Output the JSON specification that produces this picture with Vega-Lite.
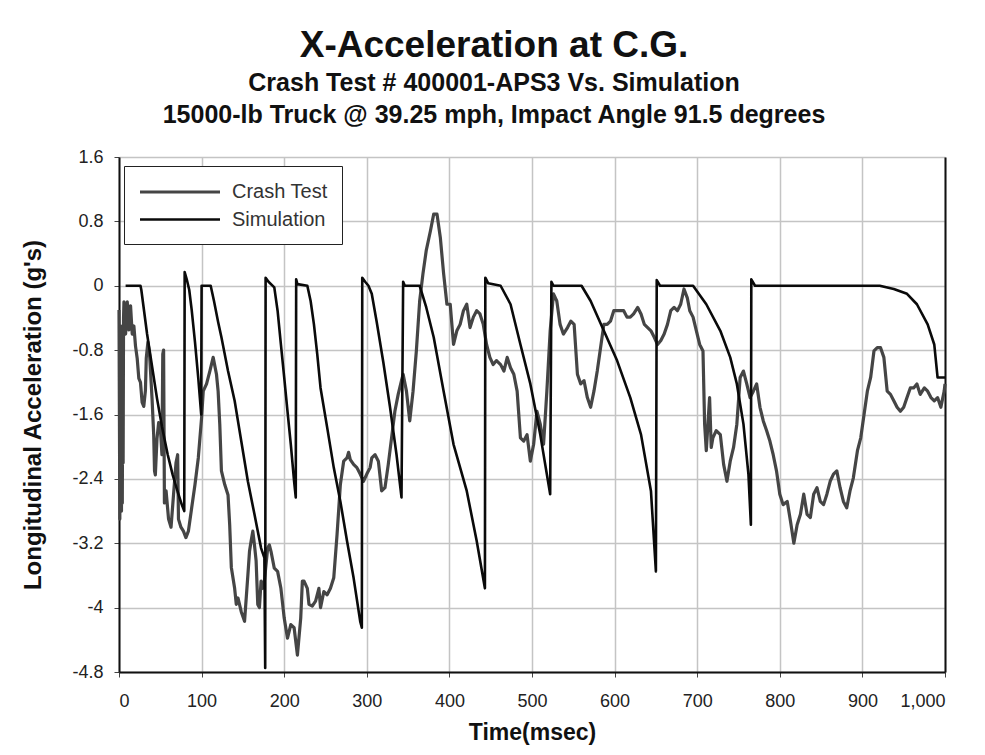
{
  "$schema": "https://vega.github.io/schema/vega-lite/v6.json",
  "width": 826,
  "height": 515,
  "autosize": {"type": "none"},
  "padding": {"left": 119, "top": 157, "right": 40, "bottom": 83},
  "background": "white",
  "title": {
    "text": "X-Acceleration at C.G.",
    "subtitle": ["Crash Test # 400001-APS3 Vs. Simulation", "15000-lb Truck @ 39.25 mph, Impact Angle 91.5 degrees"],
    "anchor": "middle",
    "dx": -38,
    "offset": 19,
    "font": "Liberation Sans",
    "fontSize": 37,
    "fontWeight": "bold",
    "color": "#111",
    "subtitleFont": "Liberation Sans",
    "subtitleFontSize": 25,
    "subtitleFontWeight": "bold",
    "subtitleColor": "#111",
    "subtitleLineHeight": 32,
    "subtitlePadding": 6
  },
  "data": {"values": [
    {"series":"Crash Test","t":0,"g":-0.3},{"series":"Crash Test","t":0.5,"g":-1.6},{"series":"Crash Test","t":1,"g":-2.9},{"series":"Crash Test","t":1.5,"g":-0.8},{"series":"Crash Test","t":2,"g":-2.6},{"series":"Crash Test","t":2.5,"g":-0.5},{"series":"Crash Test","t":3,"g":-2.8},{"series":"Crash Test","t":3.5,"g":-0.7},{"series":"Crash Test","t":4,"g":-2.7},{"series":"Crash Test","t":4.5,"g":-0.9},{"series":"Crash Test","t":5,"g":-2.2},{"series":"Crash Test","t":5.5,"g":-0.4},{"series":"Crash Test","t":6,"g":-0.2},{"series":"Crash Test","t":8,"g":-0.6},{"series":"Crash Test","t":10,"g":-0.2},{"series":"Crash Test","t":12,"g":-0.55},{"series":"Crash Test","t":14,"g":-0.25},{"series":"Crash Test","t":16,"g":-0.6},{"series":"Crash Test","t":18,"g":-0.5},{"series":"Crash Test","t":20,"g":-0.75},{"series":"Crash Test","t":22,"g":-0.9},{"series":"Crash Test","t":24,"g":-1.15},{"series":"Crash Test","t":26,"g":-1.2},{"series":"Crash Test","t":28,"g":-1.45},{"series":"Crash Test","t":30,"g":-1.5},{"series":"Crash Test","t":32,"g":-1.3},{"series":"Crash Test","t":33,"g":-0.9},{"series":"Crash Test","t":35,"g":-0.7},{"series":"Crash Test","t":37,"g":-0.85},{"series":"Crash Test","t":40,"g":-1.4},{"series":"Crash Test","t":42,"g":-1.85},{"series":"Crash Test","t":43,"g":-2.3},{"series":"Crash Test","t":44,"g":-2.35},{"series":"Crash Test","t":46,"g":-1.9},{"series":"Crash Test","t":48,"g":-1.7},{"series":"Crash Test","t":50,"g":-1.75},{"series":"Crash Test","t":52,"g":-2.1},{"series":"Crash Test","t":53,"g":-0.85},{"series":"Crash Test","t":54,"g":-0.8},{"series":"Crash Test","t":55,"g":-2.7},{"series":"Crash Test","t":57,"g":-2.55},{"series":"Crash Test","t":60,"g":-2.9},{"series":"Crash Test","t":63,"g":-3.0},{"series":"Crash Test","t":66,"g":-2.6},{"series":"Crash Test","t":69,"g":-2.2},{"series":"Crash Test","t":71,"g":-2.1},{"series":"Crash Test","t":72,"g":-2.9},{"series":"Crash Test","t":75,"g":-3.0},{"series":"Crash Test","t":78,"g":-3.05},{"series":"Crash Test","t":81,"g":-3.13},{"series":"Crash Test","t":84,"g":-3.05},{"series":"Crash Test","t":88,"g":-2.76},{"series":"Crash Test","t":92,"g":-2.47},{"series":"Crash Test","t":96,"g":-2.14},{"series":"Crash Test","t":100,"g":-1.64},{"series":"Crash Test","t":102,"g":-1.31},{"series":"Crash Test","t":106,"g":-1.22},{"series":"Crash Test","t":110,"g":-1.06},{"series":"Crash Test","t":114,"g":-0.89},{"series":"Crash Test","t":118,"g":-1.1},{"series":"Crash Test","t":120,"g":-1.31},{"series":"Crash Test","t":122,"g":-1.72},{"series":"Crash Test","t":124,"g":-2.3},{"series":"Crash Test","t":128,"g":-2.47},{"series":"Crash Test","t":132,"g":-2.6},{"series":"Crash Test","t":134,"g":-2.97},{"series":"Crash Test","t":136,"g":-3.5},{"series":"Crash Test","t":140,"g":-3.76},{"series":"Crash Test","t":142,"g":-3.96},{"series":"Crash Test","t":144,"g":-3.88},{"series":"Crash Test","t":148,"g":-4.05},{"series":"Crash Test","t":152,"g":-4.17},{"series":"Crash Test","t":156,"g":-3.6},{"series":"Crash Test","t":158,"g":-3.3},{"series":"Crash Test","t":160,"g":-3.17},{"series":"Crash Test","t":162,"g":-3.05},{"series":"Crash Test","t":164,"g":-3.22},{"series":"Crash Test","t":166,"g":-3.42},{"series":"Crash Test","t":168,"g":-3.96},{"series":"Crash Test","t":170,"g":-4.0},{"series":"Crash Test","t":172,"g":-3.67},{"series":"Crash Test","t":174,"g":-3.76},{"series":"Crash Test","t":176,"g":-3.67},{"series":"Crash Test","t":180,"g":-3.26},{"series":"Crash Test","t":182,"g":-3.22},{"series":"Crash Test","t":184,"g":-3.3},{"series":"Crash Test","t":188,"g":-3.51},{"series":"Crash Test","t":192,"g":-3.55},{"series":"Crash Test","t":196,"g":-3.76},{"series":"Crash Test","t":200,"g":-4.13},{"series":"Crash Test","t":204,"g":-4.38},{"series":"Crash Test","t":208,"g":-4.21},{"series":"Crash Test","t":212,"g":-4.25},{"series":"Crash Test","t":216,"g":-4.59},{"series":"Crash Test","t":220,"g":-4.13},{"series":"Crash Test","t":222,"g":-3.67},{"series":"Crash Test","t":224,"g":-3.67},{"series":"Crash Test","t":228,"g":-3.76},{"series":"Crash Test","t":230,"g":-3.96},{"series":"Crash Test","t":234,"g":-3.98},{"series":"Crash Test","t":238,"g":-3.92},{"series":"Crash Test","t":242,"g":-3.76},{"series":"Crash Test","t":244,"g":-4.0},{"series":"Crash Test","t":248,"g":-3.8},{"series":"Crash Test","t":252,"g":-3.84},{"series":"Crash Test","t":256,"g":-3.76},{"series":"Crash Test","t":260,"g":-3.63},{"series":"Crash Test","t":264,"g":-3.09},{"series":"Crash Test","t":268,"g":-2.47},{"series":"Crash Test","t":272,"g":-2.18},{"series":"Crash Test","t":276,"g":-2.14},{"series":"Crash Test","t":278,"g":-2.07},{"series":"Crash Test","t":280,"g":-2.16},{"series":"Crash Test","t":284,"g":-2.22},{"series":"Crash Test","t":288,"g":-2.26},{"series":"Crash Test","t":292,"g":-2.34},{"series":"Crash Test","t":296,"g":-2.43},{"series":"Crash Test","t":300,"g":-2.34},{"series":"Crash Test","t":304,"g":-2.26},{"series":"Crash Test","t":306,"g":-2.14},{"series":"Crash Test","t":310,"g":-2.1},{"series":"Crash Test","t":314,"g":-2.18},{"series":"Crash Test","t":318,"g":-2.55},{"series":"Crash Test","t":322,"g":-2.51},{"series":"Crash Test","t":326,"g":-2.22},{"series":"Crash Test","t":330,"g":-1.89},{"series":"Crash Test","t":334,"g":-1.56},{"series":"Crash Test","t":338,"g":-1.35},{"series":"Crash Test","t":342,"g":-1.18},{"series":"Crash Test","t":344,"g":-1.1},{"series":"Crash Test","t":348,"g":-1.31},{"series":"Crash Test","t":352,"g":-1.68},{"series":"Crash Test","t":356,"g":-1.31},{"series":"Crash Test","t":360,"g":-0.81},{"series":"Crash Test","t":364,"g":-0.19},{"series":"Crash Test","t":368,"g":0.15},{"series":"Crash Test","t":372,"g":0.44},{"series":"Crash Test","t":377,"g":0.68},{"series":"Crash Test","t":381,"g":0.89},{"series":"Crash Test","t":385,"g":0.89},{"series":"Crash Test","t":389,"g":0.6},{"series":"Crash Test","t":393,"g":0.15},{"series":"Crash Test","t":397,"g":-0.23},{"series":"Crash Test","t":401,"g":-0.23},{"series":"Crash Test","t":405,"g":-0.73},{"series":"Crash Test","t":409,"g":-0.56},{"series":"Crash Test","t":413,"g":-0.48},{"series":"Crash Test","t":417,"g":-0.31},{"series":"Crash Test","t":421,"g":-0.23},{"series":"Crash Test","t":425,"g":-0.52},{"series":"Crash Test","t":429,"g":-0.39},{"series":"Crash Test","t":433,"g":-0.31},{"series":"Crash Test","t":437,"g":-0.35},{"series":"Crash Test","t":441,"g":-0.48},{"series":"Crash Test","t":445,"g":-0.73},{"series":"Crash Test","t":449,"g":-0.89},{"series":"Crash Test","t":453,"g":-0.98},{"series":"Crash Test","t":457,"g":-0.93},{"series":"Crash Test","t":462,"g":-0.98},{"series":"Crash Test","t":466,"g":-1.06},{"series":"Crash Test","t":470,"g":-0.89},{"series":"Crash Test","t":474,"g":-1.02},{"series":"Crash Test","t":478,"g":-1.1},{"series":"Crash Test","t":482,"g":-1.31},{"series":"Crash Test","t":486,"g":-1.89},{"series":"Crash Test","t":490,"g":-1.93},{"series":"Crash Test","t":494,"g":-1.85},{"series":"Crash Test","t":498,"g":-2.18},{"series":"Crash Test","t":502,"g":-1.97},{"series":"Crash Test","t":506,"g":-1.56},{"series":"Crash Test","t":510,"g":-1.72},{"series":"Crash Test","t":514,"g":-1.97},{"series":"Crash Test","t":518,"g":-1.31},{"series":"Crash Test","t":522,"g":-0.56},{"series":"Crash Test","t":526,"g":-0.1},{"series":"Crash Test","t":530,"g":-0.19},{"series":"Crash Test","t":534,"g":-0.48},{"series":"Crash Test","t":538,"g":-0.6},{"series":"Crash Test","t":543,"g":-0.52},{"series":"Crash Test","t":547,"g":-0.44},{"series":"Crash Test","t":551,"g":-0.48},{"series":"Crash Test","t":555,"g":-1.1},{"series":"Crash Test","t":559,"g":-1.22},{"series":"Crash Test","t":563,"g":-1.18},{"series":"Crash Test","t":567,"g":-1.39},{"series":"Crash Test","t":571,"g":-1.51},{"series":"Crash Test","t":575,"g":-1.31},{"series":"Crash Test","t":579,"g":-1.06},{"series":"Crash Test","t":583,"g":-0.77},{"series":"Crash Test","t":587,"g":-0.48},{"series":"Crash Test","t":591,"g":-0.48},{"series":"Crash Test","t":595,"g":-0.44},{"series":"Crash Test","t":599,"g":-0.31},{"series":"Crash Test","t":603,"g":-0.31},{"series":"Crash Test","t":607,"g":-0.31},{"series":"Crash Test","t":611,"g":-0.31},{"series":"Crash Test","t":615,"g":-0.39},{"series":"Crash Test","t":619,"g":-0.39},{"series":"Crash Test","t":623,"g":-0.35},{"series":"Crash Test","t":628,"g":-0.27},{"series":"Crash Test","t":632,"g":-0.35},{"series":"Crash Test","t":636,"g":-0.48},{"series":"Crash Test","t":640,"g":-0.52},{"series":"Crash Test","t":644,"g":-0.56},{"series":"Crash Test","t":648,"g":-0.64},{"series":"Crash Test","t":652,"g":-0.73},{"series":"Crash Test","t":656,"g":-0.68},{"series":"Crash Test","t":660,"g":-0.6},{"series":"Crash Test","t":664,"g":-0.48},{"series":"Crash Test","t":668,"g":-0.31},{"series":"Crash Test","t":672,"g":-0.27},{"series":"Crash Test","t":676,"g":-0.31},{"series":"Crash Test","t":680,"g":-0.23},{"series":"Crash Test","t":684,"g":-0.04},{"series":"Crash Test","t":688,"g":-0.15},{"series":"Crash Test","t":691,"g":-0.31},{"series":"Crash Test","t":695,"g":-0.39},{"series":"Crash Test","t":699,"g":-0.56},{"series":"Crash Test","t":703,"g":-0.73},{"series":"Crash Test","t":707,"g":-0.81},{"series":"Crash Test","t":709,"g":-1.72},{"series":"Crash Test","t":711,"g":-2.05},{"series":"Crash Test","t":713,"g":-1.72},{"series":"Crash Test","t":715,"g":-1.39},{"series":"Crash Test","t":717,"g":-2.01},{"series":"Crash Test","t":719,"g":-1.89},{"series":"Crash Test","t":723,"g":-1.8},{"series":"Crash Test","t":728,"g":-1.85},{"series":"Crash Test","t":732,"g":-2.22},{"series":"Crash Test","t":736,"g":-2.43},{"series":"Crash Test","t":740,"g":-2.18},{"series":"Crash Test","t":744,"g":-2.01},{"series":"Crash Test","t":748,"g":-1.72},{"series":"Crash Test","t":752,"g":-1.14},{"series":"Crash Test","t":756,"g":-1.06},{"series":"Crash Test","t":760,"g":-1.22},{"series":"Crash Test","t":764,"g":-1.39},{"series":"Crash Test","t":768,"g":-1.31},{"series":"Crash Test","t":772,"g":-1.22},{"series":"Crash Test","t":776,"g":-1.51},{"series":"Crash Test","t":780,"g":-1.68},{"series":"Crash Test","t":784,"g":-1.8},{"series":"Crash Test","t":788,"g":-1.93},{"series":"Crash Test","t":792,"g":-2.1},{"series":"Crash Test","t":796,"g":-2.3},{"series":"Crash Test","t":800,"g":-2.59},{"series":"Crash Test","t":804,"g":-2.72},{"series":"Crash Test","t":809,"g":-2.68},{"series":"Crash Test","t":813,"g":-2.93},{"series":"Crash Test","t":817,"g":-3.2},{"series":"Crash Test","t":821,"g":-2.97},{"series":"Crash Test","t":825,"g":-2.84},{"series":"Crash Test","t":829,"g":-2.59},{"series":"Crash Test","t":833,"g":-2.84},{"series":"Crash Test","t":837,"g":-2.88},{"series":"Crash Test","t":841,"g":-2.59},{"series":"Crash Test","t":845,"g":-2.51},{"series":"Crash Test","t":849,"g":-2.68},{"series":"Crash Test","t":853,"g":-2.72},{"series":"Crash Test","t":857,"g":-2.59},{"series":"Crash Test","t":861,"g":-2.43},{"series":"Crash Test","t":865,"g":-2.34},{"series":"Crash Test","t":869,"g":-2.3},{"series":"Crash Test","t":873,"g":-2.51},{"series":"Crash Test","t":877,"g":-2.68},{"series":"Crash Test","t":881,"g":-2.76},{"series":"Crash Test","t":885,"g":-2.55},{"series":"Crash Test","t":889,"g":-2.39},{"series":"Crash Test","t":894,"g":-2.05},{"series":"Crash Test","t":898,"g":-1.89},{"series":"Crash Test","t":902,"g":-1.6},{"series":"Crash Test","t":906,"g":-1.31},{"series":"Crash Test","t":910,"g":-1.14},{"series":"Crash Test","t":914,"g":-0.81},{"series":"Crash Test","t":918,"g":-0.77},{"series":"Crash Test","t":922,"g":-0.77},{"series":"Crash Test","t":926,"g":-0.89},{"series":"Crash Test","t":930,"g":-1.31},{"series":"Crash Test","t":934,"g":-1.35},{"series":"Crash Test","t":938,"g":-1.43},{"series":"Crash Test","t":942,"g":-1.51},{"series":"Crash Test","t":946,"g":-1.56},{"series":"Crash Test","t":950,"g":-1.51},{"series":"Crash Test","t":954,"g":-1.39},{"series":"Crash Test","t":958,"g":-1.27},{"series":"Crash Test","t":962,"g":-1.27},{"series":"Crash Test","t":966,"g":-1.22},{"series":"Crash Test","t":970,"g":-1.35},{"series":"Crash Test","t":975,"g":-1.27},{"series":"Crash Test","t":979,"g":-1.31},{"series":"Crash Test","t":983,"g":-1.39},{"series":"Crash Test","t":987,"g":-1.43},{"series":"Crash Test","t":991,"g":-1.39},{"series":"Crash Test","t":995,"g":-1.51},{"series":"Crash Test","t":999,"g":-1.31},{"series":"Crash Test","t":1000,"g":-1.22},
    {"series":"Simulation","t":8,"g":0},{"series":"Simulation","t":26,"g":0},{"series":"Simulation","t":27,"g":-0.05},{"series":"Simulation","t":34,"g":-0.6},{"series":"Simulation","t":40,"g":-1.0},{"series":"Simulation","t":46,"g":-1.4},{"series":"Simulation","t":52,"g":-1.75},{"series":"Simulation","t":59,"g":-2.1},{"series":"Simulation","t":65,"g":-2.35},{"series":"Simulation","t":71,"g":-2.56},{"series":"Simulation","t":76,"g":-2.72},{"series":"Simulation","t":79,"g":-2.8},{"series":"Simulation","t":79.5,"g":0.17},{"series":"Simulation","t":82,"g":0.08},{"series":"Simulation","t":85,"g":-0.05},{"series":"Simulation","t":88,"g":-0.3},{"series":"Simulation","t":92,"g":-0.7},{"series":"Simulation","t":96,"g":-1.15},{"series":"Simulation","t":99.5,"g":-1.6},{"series":"Simulation","t":100,"g":0},{"series":"Simulation","t":111,"g":0},{"series":"Simulation","t":115,"g":-0.19},{"series":"Simulation","t":120,"g":-0.45},{"series":"Simulation","t":124,"g":-0.64},{"series":"Simulation","t":132,"g":-1.06},{"series":"Simulation","t":140,"g":-1.43},{"series":"Simulation","t":148,"g":-1.93},{"series":"Simulation","t":156,"g":-2.43},{"series":"Simulation","t":164,"g":-2.84},{"series":"Simulation","t":172,"g":-3.26},{"series":"Simulation","t":176,"g":-3.38},{"series":"Simulation","t":177,"g":-4.75},{"series":"Simulation","t":177.5,"g":0.1},{"series":"Simulation","t":181,"g":0.05},{"series":"Simulation","t":188,"g":-0.02},{"series":"Simulation","t":192,"g":-0.31},{"series":"Simulation","t":196,"g":-0.73},{"series":"Simulation","t":200,"g":-1.14},{"series":"Simulation","t":204,"g":-1.56},{"series":"Simulation","t":208,"g":-1.97},{"series":"Simulation","t":212,"g":-2.43},{"series":"Simulation","t":214,"g":-2.63},{"series":"Simulation","t":214.5,"g":0.08},{"series":"Simulation","t":216,"g":0.02},{"series":"Simulation","t":228,"g":0},{"series":"Simulation","t":232,"g":-0.19},{"series":"Simulation","t":236,"g":-0.48},{"series":"Simulation","t":240,"g":-0.85},{"series":"Simulation","t":244,"g":-1.27},{"series":"Simulation","t":252,"g":-1.76},{"series":"Simulation","t":260,"g":-2.26},{"series":"Simulation","t":268,"g":-2.68},{"series":"Simulation","t":276,"g":-3.17},{"series":"Simulation","t":284,"g":-3.63},{"series":"Simulation","t":292,"g":-4.17},{"series":"Simulation","t":294,"g":-4.25},{"series":"Simulation","t":294.5,"g":0.1},{"series":"Simulation","t":298,"g":0.05},{"series":"Simulation","t":302,"g":0},{"series":"Simulation","t":306,"g":-0.1},{"series":"Simulation","t":312,"g":-0.45},{"series":"Simulation","t":320,"g":-0.95},{"series":"Simulation","t":328,"g":-1.5},{"series":"Simulation","t":336,"g":-2.1},{"series":"Simulation","t":342,"g":-2.63},{"series":"Simulation","t":344,"g":0.05},{"series":"Simulation","t":346,"g":0},{"series":"Simulation","t":364,"g":0},{"series":"Simulation","t":372,"g":-0.27},{"series":"Simulation","t":381,"g":-0.64},{"series":"Simulation","t":393,"g":-1.31},{"series":"Simulation","t":405,"g":-1.97},{"series":"Simulation","t":421,"g":-2.55},{"series":"Simulation","t":433,"g":-3.17},{"series":"Simulation","t":443,"g":-3.76},{"series":"Simulation","t":443.5,"g":0.1},{"series":"Simulation","t":447,"g":0.03},{"series":"Simulation","t":462,"g":0},{"series":"Simulation","t":474,"g":-0.23},{"series":"Simulation","t":486,"g":-0.73},{"series":"Simulation","t":498,"g":-1.22},{"series":"Simulation","t":510,"g":-1.85},{"series":"Simulation","t":522,"g":-2.59},{"series":"Simulation","t":523.5,"g":0.05},{"series":"Simulation","t":526,"g":0},{"series":"Simulation","t":560,"g":0},{"series":"Simulation","t":571,"g":-0.19},{"series":"Simulation","t":587,"g":-0.56},{"series":"Simulation","t":603,"g":-0.93},{"series":"Simulation","t":619,"g":-1.39},{"series":"Simulation","t":632,"g":-1.85},{"series":"Simulation","t":644,"g":-2.55},{"series":"Simulation","t":650,"g":-3.55},{"series":"Simulation","t":651,"g":0.07},{"series":"Simulation","t":655,"g":0},{"series":"Simulation","t":695,"g":0},{"series":"Simulation","t":711,"g":-0.23},{"series":"Simulation","t":728,"g":-0.56},{"series":"Simulation","t":740,"g":-0.89},{"series":"Simulation","t":748,"g":-1.22},{"series":"Simulation","t":756,"g":-1.72},{"series":"Simulation","t":762,"g":-2.34},{"series":"Simulation","t":765,"g":-2.97},{"series":"Simulation","t":765.5,"g":0.08},{"series":"Simulation","t":770,"g":0},{"series":"Simulation","t":921,"g":0},{"series":"Simulation","t":938,"g":-0.04},{"series":"Simulation","t":954,"g":-0.1},{"series":"Simulation","t":966,"g":-0.23},{"series":"Simulation","t":979,"g":-0.48},{"series":"Simulation","t":987,"g":-0.73},{"series":"Simulation","t":991,"g":-1.14},{"series":"Simulation","t":1000,"g":-1.14}
  ]},
  "layer": [
    {
      "mark": {"type": "line", "strokeJoin": "round", "strokeCap": "butt"},
      "encoding": {
        "x": {"field": "t", "type": "quantitative",
          "scale": {"domain": [0, 1000], "nice": false, "zero": false},
          "axis": {"values": [0,100,200,300,400,500,600,700,800,900,1000], "format": ",d", "title": "Time(msec)"}},
        "y": {"field": "g", "type": "quantitative",
          "scale": {"domain": [-4.8, 1.6], "nice": false, "zero": false},
          "axis": {"values": [-4.8,-4,-3.2,-2.4,-1.6,-0.8,0,0.8,1.6], "labelExpr": "'' + datum.value", "title": "Longitudinal Acceleration (g's)", "orient": "left"}},
        "color": {"field": "series", "type": "nominal",
          "scale": {"domain": ["Crash Test", "Simulation"], "range": ["#454545", "#0a0a0a"]},
          "legend": {"orient": "none", "legendX": 5, "legendY": 9, "title": null, "symbolType": "M-1,0H7", "symbolSize": 400, "symbolStrokeWidth": 3.5, "symbolFillColor": "transparent", "labelFontSize": 20, "labelColor": "#333", "fillColor": "white", "strokeColor": "#222", "padding": 14, "rowPadding": 6, "labelOffset": 70, "labelLimit": 300}},
        "strokeWidth": {"field": "series", "type": "ordinal",
          "scale": {"domain": ["Crash Test", "Simulation"], "range": [3.2, 2.6]}, "legend": null}
      }
    },
    {
      "mark": {"type": "line", "opacity": 0},
      "encoding": {
        "x": {"field": "t", "type": "quantitative", "scale": {"domain": [0, 1000], "nice": false, "zero": false}},
        "y": {"field": "g", "type": "quantitative", "scale": {"domain": [-4.8, 1.6], "nice": false, "zero": false},
          "axis": {"orient": "right", "labels": false, "ticks": false, "grid": false, "title": null, "domain": true, "domainColor": "#111", "domainWidth": 2}}
      }
    }
  ],
  "resolve": {"axis": {"y": "independent"}},
  "config": {
    "view": {"stroke": null},
    "font": "Liberation Sans",
    "axis": {
      "grid": true, "gridColor": "#c4c4c4", "gridWidth": 1.5,
      "domainColor": "#111", "domainWidth": 2,
      "tickColor": "#444", "tickSize": 5, "tickWidth": 1,
      "labelFont": "Liberation Sans", "labelFontSize": 18, "labelColor": "#222",
      "titleFont": "Liberation Sans", "titleFontWeight": "bold", "titleColor": "#111"
    },
    "axisX": {"labelPadding": 15, "titlePadding": 11, "titleFontSize": 23},
    "axisY": {"labelPadding": 11, "titlePadding": 26, "titleFontSize": 24}
  }
}
